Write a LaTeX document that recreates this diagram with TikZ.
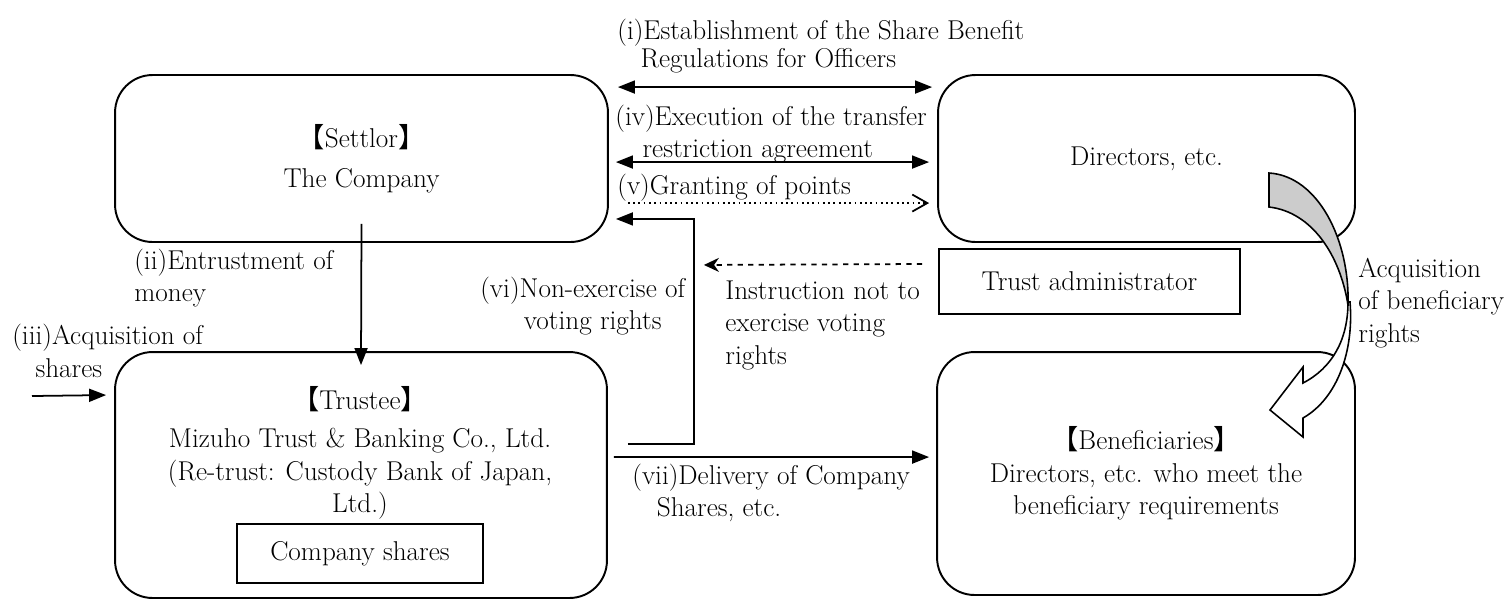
\documentclass[tikz,border=0pt]{standalone}
\usepackage{fontspec}
\newfontfamily\cjk{Noto Sans CJK JP}
\usetikzlibrary{arrows.meta,calc}
\newcommand{\lbr}{{\cjk 【}}
\newcommand{\rbr}{{\cjk 】}}

\begin{document}
\begin{tikzpicture}[x=0.02cm, y=-0.02cm,
  font=\fontsize{15.5}{18.5}\selectfont,
  party/.style={draw, line width=1.1pt, rounded corners=0.75cm, align=center, inner sep=0pt},
  plainbox/.style={draw, line width=1.1pt, align=center, inner sep=0pt},
  lbl/.style={anchor=west, inner sep=0pt, align=left},
  conn/.style={line width=1pt, -{Triangle[length=0.34cm,width=0.26cm]}},
  both/.style={line width=1pt, {Triangle[length=0.34cm,width=0.26cm]}-{Triangle[length=0.34cm,width=0.26cm]}}]

\useasboundingbox (0,0) rectangle (1507,600);

% parties
\node[party, minimum width=9.86cm, minimum height=3.34cm] (settlor) at (361.5,158.5)
  {\lbr Settlor\rbr\\[4pt] The Company};
\node[party, minimum width=8.34cm, minimum height=3.34cm] (directors) at (1146.5,158.5)
  {Directors, etc.};
\node[party, minimum width=9.84cm, minimum height=4.92cm] (trustee) at (361,475) {};
\node[party, minimum width=8.36cm, minimum height=4.86cm] (benef) at (1146,473.5)
  {\lbr Beneficiaries\rbr\\ Directors, etc. who meet the\\ beneficiary requirements};
\node[plainbox, minimum width=6.02cm, minimum height=1.3cm] (admin) at (1089.5,281.5)
  {Trust administrator};
\node[plainbox, minimum width=4.92cm, minimum height=1.18cm] (shares) at (360,553.5)
  {Company shares};
\node[align=center, inner sep=0pt] (trusteetxt) at (360,453)
  {\lbr Trustee\rbr\\[3pt] Mizuho Trust \& Banking Co., Ltd.\\ (Re-trust: Custody Bank of Japan,\\ Ltd.)};

% labels
\node[lbl, font=\fontsize{15.5}{16}\selectfont] (lbli) at (617,46)
  {(i)Establishment of the Share Benefit\\\hspace*{0.85em}Regulations for Officers};
\node[lbl] (lbliv) at (615,134)
  {(iv)Execution of the transfer\\\hspace*{1em}restriction agreement};
\node[lbl] (lblv) at (617,188) {(v)Granting of points};
\node[lbl] (lblii) at (134,278) {(ii)Entrustment of\\money};
\node[lbl] (lbliii) at (12,351) {(iii)Acquisition of\\\hspace*{0.85em}shares};
\node[lbl] (lblvi) at (480,306) {(vi)Non-exercise of\\\hspace*{1.6em}voting rights};
\node[lbl] (lblinstr) at (725,325) {Instruction not to\\exercise voting\\rights};
\node[lbl] (lblvii) at (632,493) {(vii)Delivery of Company\\\hspace*{0.9em}Shares, etc.};
\node[lbl] (lblacq) at (1358,303) {Acquisition\\of beneficiary\\rights};

% connectors
\draw[both] ($(settlor.north east)+(9,13)$) -- ($(directors.north west)+(-5,13)$);
\draw[both] ($(settlor.north east)+(7,88)$) -- ($(directors.north west)+(-8,88)$);
\draw[line width=1pt, dotted, -{Straight Barb[length=0.3cm,width=0.34cm]}]
  ($(settlor.north east)+(19,129)$) -- ($(directors.north west)+(-8,129)$);
\draw[conn] ($(trustee.north east)+(20,93)$) -| ($(settlor.south east)+(85,-24)$)
  -- ($(settlor.south east)+(7,-24)$);
\draw[line width=1pt, dashed, -{Stealth[length=0.3cm,width=0.28cm]}]
  ($(admin.west)+(-16,-17.5)$) -- ($(settlor.south east)+(95,22)$);
\draw[conn] ($(settlor.south)+(0,-19)$) -- ($(trustee.north)+(0,14)$);
\draw[conn] (32,396) -- ($(trustee.north west)+(-8,44)$);
\draw[conn] ($(trustee.north east)+(6,106)$) -- ($(benef.north west)+(-7,106)$);

% curved block arrow
\filldraw[fill=gray!40, line width=0.9pt] (1269,173) -- (1269,207)
  .. controls (1312,212) and (1340,255) .. (1348,305)
  .. controls (1350,240) and (1318,176) .. cycle;
\filldraw[fill=white, line width=0.9pt] (1348,302)
  .. controls (1348,340) and (1332,368) .. (1303,383) -- (1303,367) -- (1270,410)
  -- (1303,437) -- (1303,418) .. controls (1338,398) and (1354,350) .. (1350,302) -- cycle;
\end{tikzpicture}
\end{document}
